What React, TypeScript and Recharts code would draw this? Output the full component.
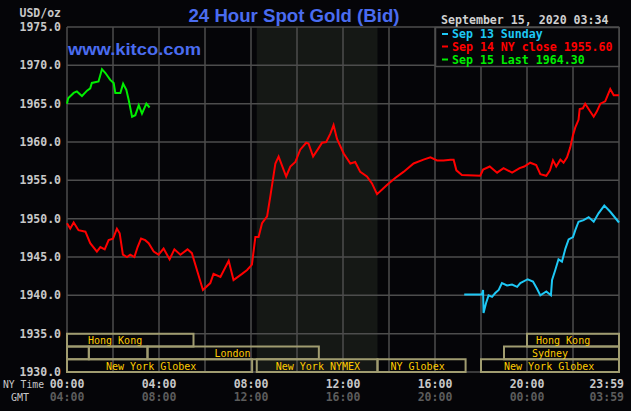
import React from 'react'
import { LineChart, Line, XAxis, YAxis, CartesianGrid, ReferenceArea } from 'recharts'

// Sep 13 (Sunday) – starts at the Sunday evening open
const sep13 = [
  { t: 17.27, p: 1940.1 }, { t: 18.04, p: 1940.1 }, { t: 18.09, p: 1940.7 }, { t: 18.11, p: 1937.7 },
  { t: 18.22, p: 1939.0 }, { t: 18.33, p: 1940.0 }, { t: 18.48, p: 1939.8 }, { t: 18.62, p: 1940.3 },
  { t: 18.77, p: 1940.7 }, { t: 18.91, p: 1941.6 }, { t: 19.13, p: 1941.3 }, { t: 19.35, p: 1941.4 },
  { t: 19.57, p: 1941.1 }, { t: 19.71, p: 1941.6 }, { t: 20.03, p: 1942.1 }, { t: 20.26, p: 1941.8 },
  { t: 20.43, p: 1940.9 }, { t: 20.58, p: 1940.0 }, { t: 20.84, p: 1940.5 }, { t: 21.04, p: 1940.0 },
  { t: 21.09, p: 1942.0 }, { t: 21.23, p: 1943.3 }, { t: 21.37, p: 1944.7 }, { t: 21.52, p: 1944.4 },
  { t: 21.67, p: 1946.1 }, { t: 21.81, p: 1947.3 }, { t: 22.0, p: 1947.6 }, { t: 22.1, p: 1948.5 },
  { t: 22.24, p: 1949.6 }, { t: 22.46, p: 1949.8 }, { t: 22.68, p: 1950.2 }, { t: 22.9, p: 1949.6 },
  { t: 23.11, p: 1950.7 }, { t: 23.36, p: 1951.7 }, { t: 23.62, p: 1950.9 }, { t: 24.0, p: 1949.5 },
]

// Sep 14 (NY close 1955.60)
const sep14 = [
  { t: 0, p: 1949.4 }, { t: 0.14, p: 1948.7 }, { t: 0.29, p: 1949.5 }, { t: 0.5, p: 1948.5 },
  { t: 0.8, p: 1948.3 }, { t: 1.01, p: 1946.8 }, { t: 1.3, p: 1945.7 }, { t: 1.45, p: 1946.3 },
  { t: 1.64, p: 1946.0 }, { t: 1.81, p: 1947.2 }, { t: 2.0, p: 1947.4 }, { t: 2.17, p: 1948.7 },
  { t: 2.29, p: 1948.1 }, { t: 2.43, p: 1945.3 }, { t: 2.61, p: 1945.0 }, { t: 2.75, p: 1945.3 },
  { t: 2.93, p: 1945.0 }, { t: 3.07, p: 1946.3 }, { t: 3.22, p: 1947.4 }, { t: 3.4, p: 1947.2 },
  { t: 3.55, p: 1946.8 }, { t: 3.77, p: 1945.7 }, { t: 3.98, p: 1945.3 }, { t: 4.2, p: 1946.1 },
  { t: 4.46, p: 1944.7 }, { t: 4.67, p: 1946.0 }, { t: 4.93, p: 1945.3 }, { t: 5.24, p: 1946.0 },
  { t: 5.43, p: 1945.5 }, { t: 5.65, p: 1943.3 }, { t: 5.91, p: 1940.7 }, { t: 6.23, p: 1941.6 },
  { t: 6.37, p: 1942.8 }, { t: 6.67, p: 1942.4 }, { t: 7.03, p: 1944.5 }, { t: 7.24, p: 1942.0 },
  { t: 7.61, p: 1942.8 }, { t: 7.83, p: 1943.3 }, { t: 8.04, p: 1944.0 }, { t: 8.19, p: 1947.6 },
  { t: 8.33, p: 1947.6 }, { t: 8.48, p: 1949.4 }, { t: 8.7, p: 1950.3 }, { t: 8.84, p: 1952.9 },
  { t: 9.06, p: 1957.2 }, { t: 9.2, p: 1958.1 }, { t: 9.53, p: 1955.5 }, { t: 9.71, p: 1956.8 },
  { t: 9.93, p: 1957.4 }, { t: 10.14, p: 1959.0 }, { t: 10.4, p: 1959.9 }, { t: 10.5, p: 1959.8 },
  { t: 10.7, p: 1958.1 }, { t: 10.94, p: 1959.2 }, { t: 11.09, p: 1959.9 }, { t: 11.27, p: 1960.0 },
  { t: 11.45, p: 1961.1 }, { t: 11.59, p: 1962.2 }, { t: 11.74, p: 1960.4 }, { t: 12.03, p: 1958.5 },
  { t: 12.32, p: 1957.2 }, { t: 12.53, p: 1957.4 }, { t: 12.75, p: 1956.1 }, { t: 13.04, p: 1955.5 },
  { t: 13.26, p: 1954.6 }, { t: 13.48, p: 1953.2 }, { t: 13.7, p: 1953.8 }, { t: 13.91, p: 1954.4 },
  { t: 14.27, p: 1955.3 }, { t: 14.63, p: 1956.1 }, { t: 15.07, p: 1957.2 }, { t: 15.5, p: 1957.7 },
  { t: 15.8, p: 1958.0 }, { t: 16.09, p: 1957.6 }, { t: 16.37, p: 1957.6 }, { t: 16.67, p: 1957.7 },
  { t: 16.81, p: 1957.7 }, { t: 16.93, p: 1956.3 }, { t: 17.17, p: 1955.7 }, { t: 17.97, p: 1955.6 },
  { t: 18.09, p: 1956.4 }, { t: 18.38, p: 1956.8 }, { t: 18.7, p: 1956.0 }, { t: 18.98, p: 1956.6 },
  { t: 19.35, p: 1956.0 }, { t: 19.68, p: 1956.6 }, { t: 19.88, p: 1956.8 }, { t: 20.14, p: 1957.3 },
  { t: 20.4, p: 1957.0 }, { t: 20.58, p: 1955.8 }, { t: 20.84, p: 1955.6 }, { t: 21.0, p: 1956.3 },
  { t: 21.13, p: 1957.6 }, { t: 21.27, p: 1956.8 }, { t: 21.45, p: 1957.7 }, { t: 21.59, p: 1957.3 },
  { t: 21.74, p: 1958.0 }, { t: 21.88, p: 1959.3 }, { t: 22.0, p: 1960.9 }, { t: 22.1, p: 1961.9 },
  { t: 22.24, p: 1962.9 }, { t: 22.29, p: 1964.3 }, { t: 22.43, p: 1964.4 }, { t: 22.53, p: 1965.0 },
  { t: 22.72, p: 1964.1 }, { t: 22.9, p: 1963.3 }, { t: 23.04, p: 1964.0 }, { t: 23.19, p: 1965.0 },
  { t: 23.4, p: 1965.3 }, { t: 23.62, p: 1966.9 }, { t: 23.77, p: 1966.1 }, { t: 24.0, p: 1966.1 },
]

// Sep 15 (last 1964.30)
const sep15 = [
  { t: 0, p: 1965.0 }, { t: 0.05, p: 1965.7 }, { t: 0.29, p: 1966.4 }, { t: 0.43, p: 1966.6 },
  { t: 0.65, p: 1966.0 }, { t: 0.87, p: 1966.7 }, { t: 1.01, p: 1967.0 }, { t: 1.08, p: 1967.7 },
  { t: 1.37, p: 1967.9 }, { t: 1.52, p: 1969.5 }, { t: 1.67, p: 1969.0 }, { t: 1.88, p: 1968.1 },
  { t: 2.03, p: 1967.7 }, { t: 2.1, p: 1966.4 }, { t: 2.32, p: 1966.4 }, { t: 2.44, p: 1967.6 },
  { t: 2.58, p: 1966.8 }, { t: 2.68, p: 1965.5 }, { t: 2.83, p: 1963.3 }, { t: 2.97, p: 1963.5 },
  { t: 3.12, p: 1964.8 }, { t: 3.26, p: 1963.7 }, { t: 3.45, p: 1965.0 }, { t: 3.59, p: 1964.5 },
]

const priceTicks = [1930, 1935, 1940, 1945, 1950, 1955, 1960, 1965, 1970, 1975]
const hourTicks = [0, 2, 4, 6, 8, 10, 12, 14, 16, 18, 20, 22, 24]
const nyTimeLabels: Record<number, string> = { 0: '00:00', 4: '04:00', 8: '08:00', 12: '12:00', 16: '16:00', 20: '20:00', 24: '23:59' }
const gmtLabels: Record<number, string> = { 0: '04:00', 4: '08:00', 8: '12:00', 12: '16:00', 16: '20:00', 20: '00:00', 24: '03:59' }

// NYMEX pit hours (shaded)
const nymexHours = [8.25, 13.5]

// trading sessions: row 1 is the top band
const sessions = [
  { name: 'Hong Kong', row: 1, from: 0, to: 5.5 },
  { name: '', row: 2, from: 0, to: 0.95 },
  { name: '', row: 2, from: 0.95, to: 3.5 },
  { name: 'London', row: 2, from: 3.5, to: 10.95 },
  { name: 'New York Globex', row: 3, from: 0, to: 8.05 },
  { name: 'New York NYMEX', row: 3, from: 8.25, to: 13.5 },
  { name: 'NY Globex', row: 3, from: 13.5, to: 17.33 },
  { name: 'New York Globex', row: 3, from: 18, to: 24 },
  { name: 'Sydney', row: 2, from: 19, to: 24 },
  { name: 'Hong Kong', row: 1, from: 20, to: 24 },
]
const labelOffset = [21, 0, 0, 67, 39, 19, 13, 23, 28, 9]

const MONO = '"DejaVu Sans Mono", monospace'
const GRID = '#4d4d4d'
const BOX = '#a09c70'

function TimeTick({ x, y, payload }: any) {
  const v = payload.value
  if (!(v in nyTimeLabels)) return null
  const last = v === 24
  const anchor = last ? 'end' : 'middle'
  const tx = last ? x + 5 : x
  return (
    <g>
      <text x={tx} y={y + 15.5} textAnchor={anchor} fill="#c8c8c8" fontFamily={MONO} fontWeight="bold" fontSize={11.5}>
        {nyTimeLabels[v]}
      </text>
      <text x={tx} y={y + 29} textAnchor={anchor} fill="#5c5c5c" fontFamily={MONO} fontWeight="bold" fontSize={11.5}>
        {gmtLabels[v]}
      </text>
    </g>
  )
}

export default function App() {
  const rowBand = (row: number) => {
    const h = 5 / 3
    const top = 1935 - (row - 1) * h
    return [top - h, top]
  }

  return (
    <div style={{ position: 'absolute', left: 0, top: 0, width: 631, height: 411, background: '#050508', overflow: 'hidden' }}>
      <LineChart width={631} height={411} margin={{ top: 27, right: 12, bottom: 0, left: 0 }}>
        <ReferenceArea
          x1={nymexHours[0]}
          x2={nymexHours[1]}
          y1={1930}
          y2={1975}
          fill="#151815"
          fillOpacity={1}
          stroke="none"
          zIndex={-200}
        />
        <CartesianGrid stroke={GRID} strokeWidth={1.5} />
        <XAxis
          type="number"
          dataKey="t"
          domain={[0, 24]}
          ticks={hourTicks}
          height={39}
          axisLine={false}
          tickLine={false}
          tickSize={0}
          tickMargin={0}
          tick={<TimeTick />}
          allowDuplicatedCategory={false}
        />
        <YAxis
          type="number"
          domain={[1930, 1975]}
          ticks={priceTicks}
          width={67}
          axisLine={false}
          tickLine={false}
          tickSize={0}
          tickMargin={6}
          tickFormatter={(v: number) => v.toFixed(1)}
          tick={{ fill: '#c8c8c8', fontFamily: MONO, fontWeight: 'bold', fontSize: 11.5 }}
        />
        {sessions.map((s, i) => {
          const [lo, hi] = rowBand(s.row)
          return (
            <ReferenceArea
              key={`s-${i}`}
              x1={s.from}
              x2={s.to}
              y1={lo}
              y2={hi}
              fill="none"
              stroke={BOX}
              strokeWidth={2}
              label={(p: any) =>
                s.name ? (
                  <text
                    x={p.viewBox.x + labelOffset[i]}
                    y={p.viewBox.y + p.viewBox.height / 2 + 4}
                    fill="#ffcc00"
                    fontFamily={MONO}
                    fontSize={10}
                  >
                    {s.name}
                  </text>
                ) : null
              }
            />
          )
        })}
        <Line data={sep13} dataKey="p" stroke="#1ec8f5" strokeWidth={2} dot={false} type="linear" isAnimationActive={false} />
        <Line data={sep14} dataKey="p" stroke="#ff0000" strokeWidth={2} dot={false} type="linear" isAnimationActive={false} />
        <Line data={sep15} dataKey="p" stroke="#00ee00" strokeWidth={2} dot={false} type="linear" isAnimationActive={false} />
      </LineChart>

      <svg width={631} height={411} style={{ position: 'absolute', left: 0, top: 0, pointerEvents: 'none' }}>
        <text x={294} y={22} textAnchor="middle" fill="#4a6cf0" fontFamily="Liberation Sans, Arial, sans-serif" fontWeight="bold" fontSize={18} textLength={211} lengthAdjust="spacingAndGlyphs">
          24 Hour Spot Gold (Bid)
        </text>
        <text x={68} y={55} fill="#4a6cf0" fontFamily="Liberation Sans, Arial, sans-serif" fontWeight="bold" fontSize={17} textLength={133} lengthAdjust="spacingAndGlyphs">
          www.kitco.com
        </text>
        <text x={61} y={17} textAnchor="end" fill="#c8c8c8" fontFamily={MONO} fontWeight="bold" fontSize={11.5}>USD/oz</text>
        <text x={441} y={24} fill="#d0d0d0" fontFamily={MONO} fontWeight="bold" fontSize={11.6}>September 15, 2020 03:34</text>

        <rect x={435.5} y={27.5} width={183.5} height={39} fill="#050508" stroke={GRID} strokeWidth={1.5} />
        <rect x={442} y={33} width={6} height={2} fill="#1ec8f5" />
        <text x={452} y={38} fill="#1ec8f5" fontFamily={MONO} fontWeight="bold" fontSize={11.6}>Sep 13 Sunday</text>
        <rect x={442} y={45.5} width={6} height={2} fill="#ff0000" />
        <text x={452} y={50.5} fill="#ff0000" fontFamily={MONO} fontWeight="bold" fontSize={11.6}>Sep 14 NY close 1955.60</text>
        <rect x={442} y={58.5} width={6} height={2} fill="#00ee00" />
        <text x={452} y={63.5} fill="#00ee00" fontFamily={MONO} fontWeight="bold" fontSize={11.6}>Sep 15 Last 1964.30</text>

        <text x={3} y={387.5} fill="#c8c8c8" fontFamily={MONO} fontSize={10} textLength={41} lengthAdjust="spacingAndGlyphs">NY Time</text>
        <text x={11} y={401} fill="#c8c8c8" fontFamily={MONO} fontSize={10}>GMT</text>
      </svg>
    </div>
  )
}
